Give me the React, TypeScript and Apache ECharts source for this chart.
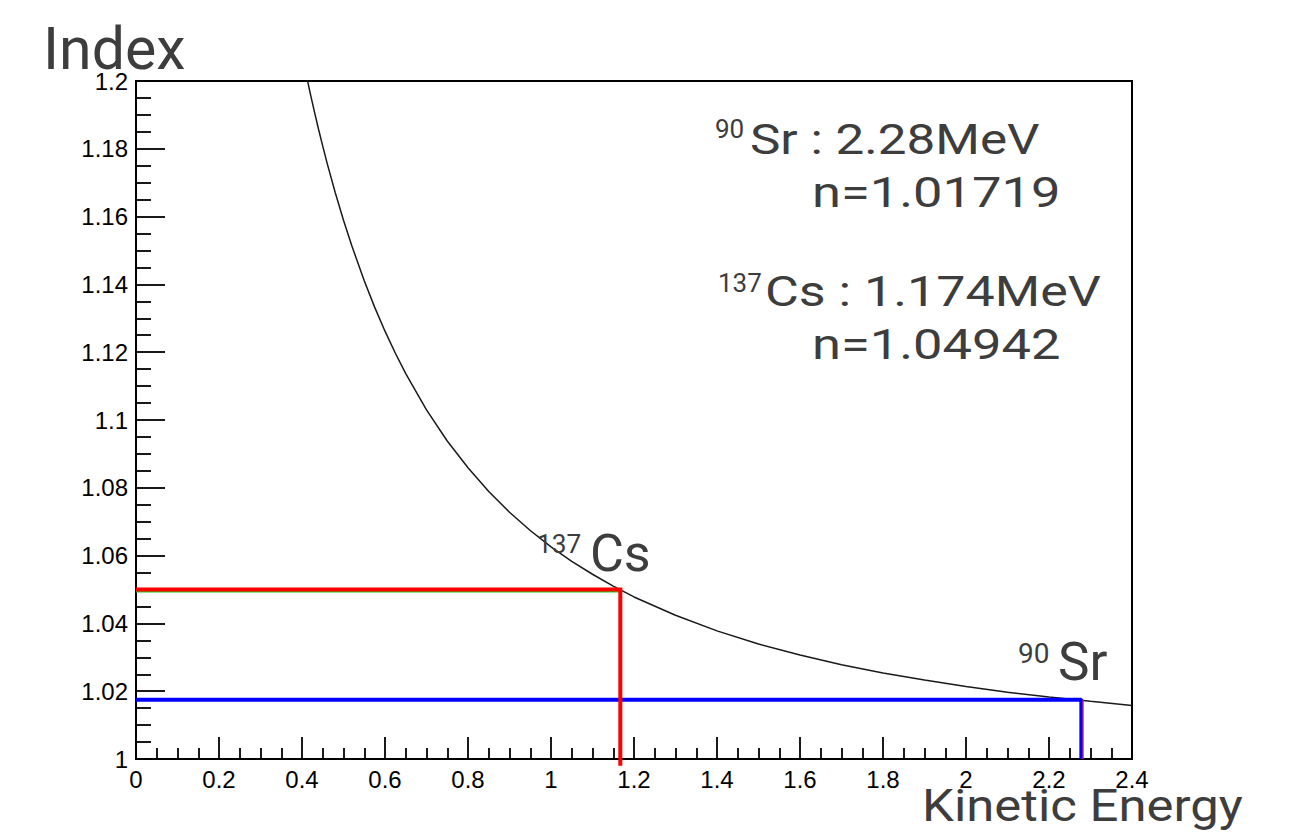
import React, { useEffect, useRef } from "react";
import * as echarts from "echarts";

// Kinetic energy (MeV) and threshold index
const curveEnergy = [0.4, 0.41, 0.42, 0.43, 0.44, 0.45, 0.46, 0.48, 0.5, 0.52, 0.55, 0.575, 0.6, 0.625, 0.65, 0.7, 0.75, 0.8, 0.85, 0.9, 0.95, 1.0, 1.05, 1.1, 1.15, 1.2, 1.3, 1.4, 1.5, 1.6, 1.7, 1.8, 1.9, 2.0, 2.1, 2.2, 2.3, 2.4];
const curveIndex = [1.2079, 1.202, 1.1963, 1.1909, 1.1857, 1.1808, 1.176, 1.1671, 1.1589, 1.1514, 1.1411, 1.1333, 1.1262, 1.1197, 1.1137, 1.103, 1.0938, 1.0859, 1.0789, 1.0728, 1.0674, 1.0626, 1.0583, 1.0545, 1.051, 1.0478, 1.0424, 1.0378, 1.0339, 1.0307, 1.0278, 1.0254, 1.0233, 1.0214, 1.0197, 1.0183, 1.017, 1.0158];

// Cs-137 marker lines (red, with thin green line beneath)
const csEnergy = 1.167;
const csIndexRed = 1.05;
const csIndexGreen = 1.0494;
const csBottom = 0.998;

// Sr-90 marker lines (blue)
const srEnergy = 2.278;
const srEnergyRedEdge = 2.282;
const srIndex = 1.0175;
const axisMinY = 1.0;

// Axis ticks
const xMin = 0, xMax = 2.4, xStep = 0.2;
const yMin = 1.0, yMax = 1.2, yStep = 0.02;

const TEXT_COLOR = "#3d3d3d";
const FONT = "Roboto";

function txt(text: string, x: number, y: number, size: number, scaleX = 1, lineHeight?: number) {
  return {
    type: "text",
    x,
    y,
    scaleX,
    style: {
      text,
      fontSize: size,
      fontFamily: FONT,
      fill: TEXT_COLOR,
      align: "left",
      verticalAlign: "middle",
      lineHeight: lineHeight ?? size,
    },
    z: 100,
  };
}

export default function App() {
  const ref = useRef<HTMLDivElement>(null);
  useEffect(() => {
    if (!ref.current) return;
    const chart = echarts.init(ref.current, null, { renderer: "svg" });
    const curve = curveEnergy.map((e, i) => [e, curveIndex[i]]);
    const axisCommon = {
      type: "value",
      axisLine: { show: true, onZero: false, lineStyle: { color: "#000", width: 2 } },
      splitLine: { show: false },
      axisLabel: {
        margin: 8,
        color: "#000",
        fontFamily: "Liberation Sans",
        fontSize: 24,
        formatter: (v: number) => String(+v.toFixed(3)),
      },
    };
    const option: any = {
      animation: false,
      backgroundColor: "#ffffff",
      grid: {
        left: 136,
        right: 168,
        top: 81,
        bottom: 78,
        show: true,
        borderColor: "#000",
        borderWidth: 2,
        backgroundColor: "transparent",
      },
      xAxis: {
        ...axisCommon,
        min: xMin,
        max: xMax,
        interval: xStep,
        axisTick: { show: true, inside: true, length: 22, lineStyle: { color: "#000", width: 1.8 } },
        minorTick: { show: true, splitNumber: 4, length: 11, lineStyle: { color: "#000", width: 1.8 } },
      },
      yAxis: {
        ...axisCommon,
        min: yMin,
        max: yMax,
        interval: yStep,
        axisTick: { show: true, inside: true, length: 29, lineStyle: { color: "#000", width: 1.8 } },
        minorTick: { show: true, splitNumber: 4, length: 15, lineStyle: { color: "#000", width: 1.8 } },
      },
      series: [
        {
          type: "line",
          data: curve,
          showSymbol: false,
          smooth: false,
          clip: true,
          lineStyle: { color: "#1a1a1a", width: 1.5 },
        },
        {
          type: "line",
          data: [[0, srIndex], [srEnergy, srIndex], [srEnergy, axisMinY]],
          showSymbol: false,
          clip: false,
          lineStyle: { color: "#0000ff", width: 4 },
        },
        {
          type: "line",
          data: [[srEnergyRedEdge, srIndex], [srEnergyRedEdge, axisMinY]],
          showSymbol: false,
          clip: false,
          lineStyle: { color: "#ff3030", width: 1 },
        },
        {
          type: "line",
          data: [[0, csIndexGreen], [csEnergy, csIndexGreen]],
          showSymbol: false,
          clip: false,
          lineStyle: { color: "#22cc22", width: 2 },
        },
        {
          type: "line",
          data: [[0, csIndexRed], [csEnergy, csIndexRed], [csEnergy, csBottom]],
          showSymbol: false,
          clip: false,
          lineStyle: { color: "#ff0000", width: 4, join: "miter" },
        },
      ],
      graphic: [
        txt("Index", 43, 48, 59, 1, 38),
        txt("Kinetic Energy", 922, 806, 45, 1.13, 40),
        txt("90", 715, 128.5, 26),
        txt("Sr : 2.28MeV", 750, 139, 43, 1.19),
        txt("n=1.01719", 812, 192.5, 43, 1.22),
        txt("137", 718, 283, 26),
        txt("Cs : 1.174MeV", 765, 291.5, 43, 1.21),
        txt("n=1.04942", 812, 345, 43, 1.22),
        txt("137", 537, 544, 25, 1.05),
        txt("Cs", 590, 553.5, 52),
        txt("90", 1018, 653, 28),
        txt("Sr", 1058, 662, 53),
      ],
    };
    chart.setOption(option);
    return () => chart.dispose();
  }, []);
  return (
    <div
      ref={ref}
      style={{ position: "fixed", left: 0, top: 0, width: 1300, height: 837, background: "#fff" }}
    />
  );
}
